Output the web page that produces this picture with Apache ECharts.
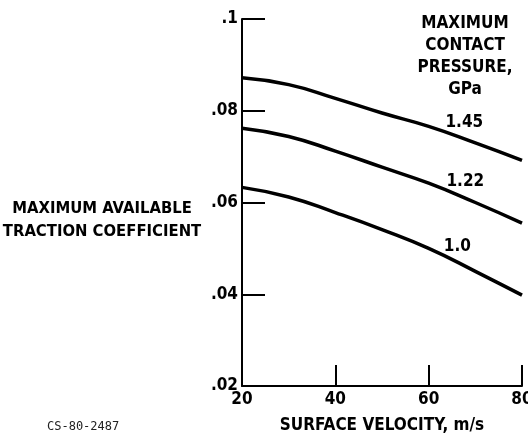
<!DOCTYPE html>
<html>
<head>
<meta charset="utf-8">
<script src="https://cdn.jsdelivr.net/npm/echarts@6/dist/echarts.min.js"></script>
<style>
html,body{margin:0;padding:0;background:#fff;}
#chart{width:528px;height:437px;}
</style>
</head>
<body>
<div id="chart"></div>
<script>
// Data
const velocity = [20, 30, 40, 50, 60, 70, 80];
const traction145 = [0.0872, 0.0857, 0.0827, 0.0795, 0.0766, 0.0730, 0.0692];
const traction122 = [0.0762, 0.0744, 0.0712, 0.0677, 0.0642, 0.0600, 0.0555];
const traction100 = [0.0633, 0.0612, 0.0578, 0.0541, 0.0500, 0.0450, 0.0398];
const seriesNames = ['1.45', '1.22', '1.0'];
const xTickLabels = ['20', '40', '60', '80'];
const yTickLabels = ['.02', '.04', '.06', '.08', '.1'];

const FONT = '"DejaVu Sans Condensed", "Liberation Sans Narrow", sans-serif';
const labelIndex = 5; // label attached near v = 70

function buildSeries(name, values, offset) {
  return {
    type: 'line',
    name: name,
    smooth: true,
    symbol: 'circle',
    symbolSize: 0,
    showSymbol: true,
    itemStyle: { color: '#000' },
    lineStyle: { color: '#000', width: 3.5 },
    label: { show: false },
    data: velocity.map((v, i) => {
      const item = { value: [v, values[i]] };
      if (i === labelIndex) {
        item.label = {
          show: true, formatter: name, position: 'inside', offset: offset,
          color: '#000', fontFamily: FONT, fontSize: 17, fontWeight: 'bold'
        };
      }
      return item;
    }),
    silent: true
  };
}

const chart = echarts.init(document.getElementById('chart'), null, { renderer: 'canvas' });
chart.setOption({
  animation: false,
  backgroundColor: '#fff',
  grid: { left: 242, right: 6, top: 19, bottom: 51, containLabel: false, outerBoundsMode: 'none' },
  title: [
    {
      text: 'MAXIMUM\nCONTACT\nPRESSURE,\nGPa',
      left: 465, top: 12, textAlign: 'center', padding: 0,
      textStyle: { fontFamily: FONT, fontSize: 17, fontWeight: 'bold', color: '#000', lineHeight: 22.3, align: 'center' }
    },
    {
      text: 'MAXIMUM AVAILABLE\nTRACTION COEFFICIENT',
      left: 102, top: 197, textAlign: 'center', padding: 0,
      textStyle: { fontFamily: FONT, fontSize: 16.5, fontWeight: 'bold', color: '#000', lineHeight: 23.4, align: 'center' }
    },
    {
      text: 'CS-80-2487',
      left: 47, top: 421, padding: 0,
      textStyle: { fontFamily: '"DejaVu Sans Mono", monospace', fontSize: 12, fontWeight: 'normal', color: '#222' }
    }
  ],
  xAxis: {
    type: 'value', min: 20, max: 80, interval: 20,
    name: 'SURFACE VELOCITY, m/s', nameLocation: 'middle', nameGap: 31,
    nameTextStyle: { fontFamily: FONT, fontSize: 17, fontWeight: 'bold', color: '#000' },
    axisLine: { show: true, lineStyle: { color: '#000', width: 2 } },
    axisTick: { show: true, inside: true, length: 21, lineStyle: { color: '#000', width: 2 } },
    splitLine: { show: false },
    axisLabel: {
      margin: 5, color: '#000', fontFamily: FONT, fontSize: 17, fontWeight: 'bold',
      formatter: v => xTickLabels[Math.round((v - 20) / 20)] || ''
    }
  },
  yAxis: {
    type: 'value', min: 0.02, max: 0.1, interval: 0.02,
    axisLine: { show: true, lineStyle: { color: '#000', width: 2 } },
    axisTick: { show: true, inside: true, length: 23, lineStyle: { color: '#000', width: 2 } },
    splitLine: { show: false },
    axisLabel: {
      margin: 4, color: '#000', fontFamily: FONT, fontSize: 17, fontWeight: 'bold',
      padding: [5, 0, 0, 0],
      formatter: v => yTickLabels[Math.round((v - 0.02) / 0.02)] || ''
    }
  },
  series: [
    buildSeries(seriesNames[0], traction145, [-11, -20]),
    buildSeries(seriesNames[1], traction122, [-10, -21]),
    buildSeries(seriesNames[2], traction100, [-18, -25])
  ]
});
</script>
</body>
</html>
